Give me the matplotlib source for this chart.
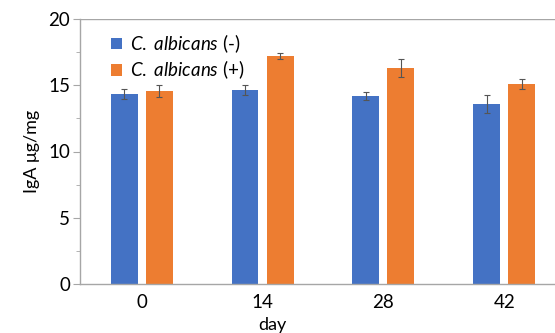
import numpy as np
import matplotlib
matplotlib.use("Agg")
import matplotlib.pyplot as plt
from matplotlib.ticker import MultipleLocator

plt.rcParams["font.family"] = ["Lato", "DejaVu Sans"]
plt.rcParams["mathtext.fontset"] = "custom"
plt.rcParams["mathtext.it"] = "Lato:italic"
plt.rcParams["mathtext.rm"] = "Lato"

days = ["0", "14", "28", "42"]
neg_mean = [14.35, 14.65, 14.2, 13.6]
neg_err = [0.4, 0.4, 0.3, 0.7]
pos_mean = [14.55, 17.2, 16.3, 15.1]
pos_err = [0.45, 0.25, 0.65, 0.4]

blue = "#4472C4"
orange = "#ED7D31"
grey = "#A6A6A6"

fig = plt.figure(figsize=(5.55, 3.33), dpi=100)
ax = fig.add_axes([80 / 555, 49 / 333, 475 / 555, 265 / 333])

x = np.arange(len(days))
w = 0.223
off = 0.145
ekw = dict(ecolor="#555555", elinewidth=0.8, capsize=2, capthick=0.8)
ax.bar(x - off, neg_mean, w, yerr=neg_err, color=blue, error_kw=ekw,
       label=r"$\mathit{C.}$ $\mathit{albicans}$ (-)")
ax.bar(x + off, pos_mean, w, yerr=pos_err, color=orange, error_kw=ekw,
       label=r"$\mathit{C.}$ $\mathit{albicans}$ (+)")

ax.set_xlim(-0.51, 3.42)
ax.set_ylim(0, 20)
ax.yaxis.set_major_locator(MultipleLocator(5))
ax.yaxis.set_minor_locator(MultipleLocator(2.5))
ax.set_xticks(x)
ax.set_xticklabels(days)
ax.axhline(20, color=grey, linewidth=1, zorder=0)

for s in ["top", "right"]:
    ax.spines[s].set_visible(False)
for s in ["left", "bottom"]:
    ax.spines[s].set_color(grey)
    ax.spines[s].set_linewidth(1)

ax.tick_params(axis="x", length=0, labelsize=13.5, pad=7)
ax.tick_params(axis="y", which="major", length=5, color=grey, labelsize=13.5, pad=2)
ax.tick_params(axis="y", which="minor", length=3, color=grey)

ax.set_ylabel("IgA μg/mg", fontsize=13, labelpad=6)
ax.set_xlabel("day", fontsize=13, labelpad=0)
ax.xaxis.set_label_coords((272 - 80) / 475, -0.125)

ax.legend(loc="upper left", bbox_to_anchor=(0.065, 0.95), frameon=False,
          fontsize=13.5, handlelength=0.6, handleheight=0.6, handletextpad=0.4,
          labelspacing=0.2, borderaxespad=0, borderpad=0)

fig.savefig("out.png", dpi=100)
